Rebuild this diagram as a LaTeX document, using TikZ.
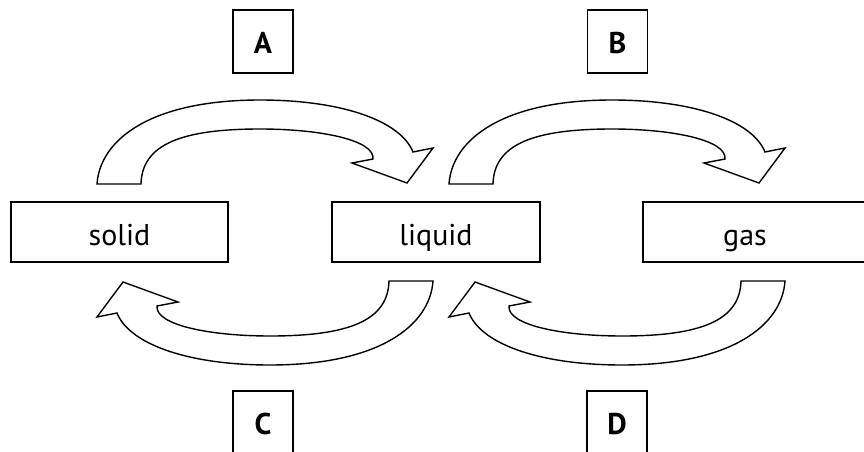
\documentclass[tikz,border=0pt]{standalone}
\usepackage{fontspec}
\setmainfont{PT Sans}
\begin{document}
\begin{tikzpicture}[x=1pt,y=-1pt,
  statebox/.style={draw=black, line width=1.8pt, inner sep=0pt, minimum height=60pt, text height=26pt, text depth=0pt, font=\fontsize{30}{34}\selectfont},
  letterbox/.style={draw=black, line width=1.8pt, inner sep=0pt, minimum width=60pt, minimum height=63pt, text height=23pt, text depth=0pt, font=\fontsize{30}{34}\selectfont\bfseries},
  arrowline/.style={draw=black, line width=1.4pt, fill=white, line join=miter},
  bigarrow/.pic={
    \path[arrowline] (97,184) .. controls (100,140) and (150,100) .. (260,100)
      .. controls (340,100) and (400,120) .. (413,152)
      -- (433,148) -- (407,183) -- (352,163) -- (373,159)
      .. controls (375,140) and (320,129) .. (260,129)
      .. controls (180,129) and (142,145) .. (141,184) -- cycle;
  }]
\clip (0,0) rectangle (864,452);
\fill[white] (0,0) rectangle (864,452);

% state boxes
\node[statebox, minimum width=217pt] (solid) at (119.5,232) {solid};
\node[statebox, minimum width=208pt] (liquid) at (436,232) {liquid};
\node[statebox, minimum width=240pt, anchor=west] (gasbox) at (642,232) {};
\node[statebox, draw=none] (gas) at (745,232) {gas};

% letter boxes
\node[letterbox] (A) at (263,41.5) {A};
\node[letterbox] (B) at (617.5,41.5) {B};
\node[letterbox] (C) at (263,422.5) {C};
\node[letterbox] (D) at (617,422.5) {D};

% curved arrows
\pic at (0,0) {bigarrow};
\pic at (352,0) {bigarrow};
\pic[rotate=180] at (530,465) {bigarrow};
\pic[rotate=180] at (882,465) {bigarrow};
\end{tikzpicture}
\end{document}
